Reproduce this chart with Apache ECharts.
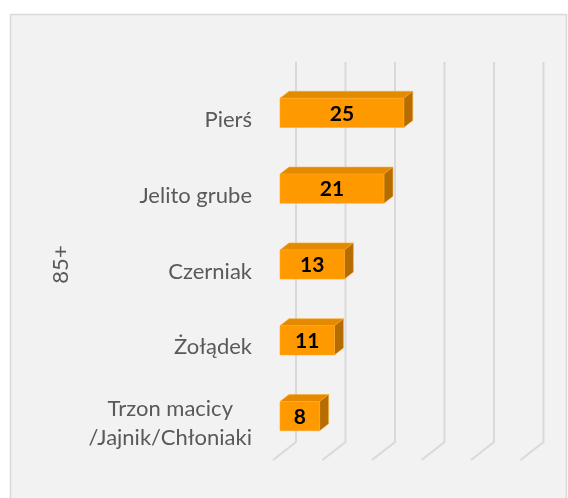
<!DOCTYPE html>
<html>
<head>
<meta charset="utf-8">
<style>
  html, body { margin: 0; padding: 0; background: #fff; }
  #chart { width: 568px; height: 498px; }
</style>
<script src="https://cdn.jsdelivr.net/npm/echarts@6/dist/echarts.min.js"></script>
</head>
<body>
<div id="chart"></div>
<script>
const categories = ['Pierś', 'Jelito grube', 'Czerniak', 'Żołądek', 'Trzon macicy\n/Jajnik/Chłoniaki'];
const values = [25, 21, 13, 11, 8];
const gridTicks = [0, 10, 20, 30, 40, 50];
const groupName = '85+';

const myChart = echarts.init(document.getElementById('chart'));

// glebokosc "3D" slupka
const DX = 9, DY = 7;

function renderBar(params, api) {
  const v = api.value(0);
  const idx = api.value(1);
  const start = api.coord([0, idx]);
  const end = api.coord([v, idx]);
  const h = api.size([0, 1])[1] * 0.385;
  const x0 = start[0], x1 = end[0];
  const yt = start[1] - h / 2, yb = start[1] + h / 2;
  const edge = 'rgba(255,170,40,0.55)';
  return {
    type: 'group',
    children: [
      { type: 'polygon', shape: { points: [[x0, yt], [x0 + DX, yt - DY], [x1 + DX, yt - DY], [x1, yt]] },
        style: { fill: '#e38a00', stroke: edge, lineWidth: 1 } },
      { type: 'polygon', shape: { points: [[x1, yt], [x1 + DX, yt - DY], [x1 + DX, yb - DY], [x1, yb]] },
        style: { fill: '#b56c00', stroke: edge, lineWidth: 1 } },
      { type: 'rect', shape: { x: x0, y: yt, width: x1 - x0, height: yb - yt },
        style: { fill: '#ff9900', stroke: edge, lineWidth: 1 } },
      { type: 'text', style: { x: (x0 + x1) / 2, y: start[1] + 1, text: String(v), align: 'center', verticalAlign: 'middle',
        fill: '#000', font: 'bold 21px Lato' } }
    ]
  };
}

function renderGridLine(params, api) {
  const v = api.value(0);
  const x = api.coord([v, 0])[0] + 16;
  const cs = params.coordSys;
  const top = cs.y - 13;
  const backBottom = cs.y + cs.height - 12;
  const frontBottom = cs.y + cs.height + 6;
  return {
    type: 'polyline',
    shape: { points: [[x, top], [x, backBottom], [x - 23, frontBottom]] },
    style: { stroke: '#d9d9d9', lineWidth: 2, fill: 'none' }
  };
}

const option = {
  backgroundColor: '#ffffff',
  animation: false,
  graphic: [
    { type: 'rect', z: -10, shape: { x: 10.5, y: 14.5, width: 556, height: 500 },
      style: { fill: '#f2f2f2', stroke: '#d9d9d9', lineWidth: 1.5 } }
  ],
  grid: { left: 280, top: 75, width: 247.5, height: 379 },
  xAxis: {
    type: 'value', min: 0, max: 50, interval: 10,
    axisLine: { show: false }, axisTick: { show: false }, axisLabel: { show: false }, splitLine: { show: false }
  },
  yAxis: {
    type: 'category', inverse: true, data: categories,
    axisLine: { show: false }, axisTick: { show: false },
    axisLabel: {
      margin: 28, color: '#595959', fontFamily: 'Lato', fontSize: 22, lineHeight: 29,
      padding: [14, 0, 0, 0],
      formatter: function (val) {
        if (val.indexOf('\n') >= 0) {
          return val.split('\n').map(s => '{c|' + s + '}').join('\n');
        }
        return val;
      },
      rich: { c: { align: 'center', color: '#595959', fontFamily: 'Lato', fontSize: 22, lineHeight: 29 } }
    },
    name: groupName, nameLocation: 'middle', nameRotate: 90, nameGap: 208,
    nameTextStyle: { color: '#595959', fontFamily: 'Lato', fontSize: 22 }
  },
  series: [
    {
      type: 'custom', z: 1, silent: true,
      renderItem: renderGridLine,
      encode: { x: 0, y: 1 },
      data: gridTicks.map(t => [t, 0])
    },
    {
      type: 'custom', z: 2,
      renderItem: renderBar,
      encode: { x: 0, y: 1 },
      data: values.map((v, i) => [v, i])
    }
  ]
};

myChart.setOption(option);
</script>
</body>
</html>
